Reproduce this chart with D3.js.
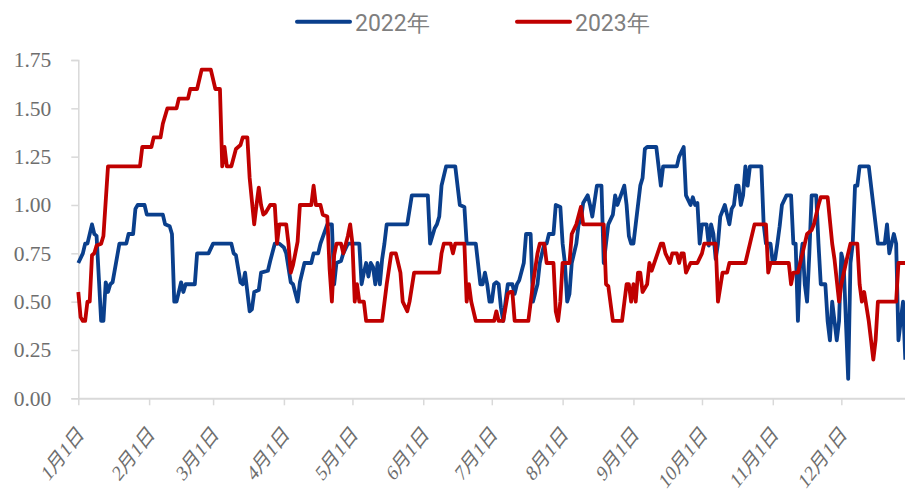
<!DOCTYPE html>
<html><head><meta charset="utf-8">
<script src="https://cdn.jsdelivr.net/npm/d3@7"></script>
<style>body{margin:0;background:#fff}svg{display:block}</style>
</head><body><svg id="c" width="905" height="496"></svg>
<script>
// Day-of-year index (0 = 1月1日) and values
const days2022 = [0,2,3,4,6,7,8,10,11,12,13,14,15,18,21,22,24,25,26,29,30,37,38,40,41,42,43,45,46,47,51,52,57,59,67,68,69,71,72,73,75,76,77,79,80,83,84,86,88,90,91,93,94,96,97,99,102,103,105,106,109,111,112,113,115,116,118,123,124,125,126,127,128,129,130,131,132,133,134,135,144,146,153,154,156,157,158,159,161,165,167,169,170,174,176,177,178,179,180,181,182,183,184,185,186,187,188,190,191,192,193,195,196,197,198,199,201,202,204,205,206,208,209,211,212,213,214,215,216,218,219,220,221,223,224,225,227,229,230,231,232,234,235,236,239,240,241,242,243,244,246,247,248,249,253,255,256,262,263,265,266,268,269,270,271,272,273,275,276,277,278,279,280,281,283,285,286,287,288,289,290,291,292,293,294,299,300,301,303,304,305,306,307,308,310,312,313,314,315,316,317,318,319,320,321,323,324,325,327,328,329,330,332,333,334,335,336,337,338,339,340,341,342,346,348,350,353,354,355,356,357,358,359,360,361,362];
const values2022 = [0.70,0.75,0.80,0.80,0.90,0.85,0.84,0.40,0.40,0.60,0.55,0.59,0.60,0.80,0.80,0.85,0.85,0.98,1.00,1.00,0.95,0.95,0.90,0.89,0.85,0.50,0.50,0.60,0.55,0.59,0.59,0.75,0.75,0.80,0.80,0.75,0.74,0.60,0.59,0.65,0.45,0.46,0.55,0.56,0.65,0.66,0.71,0.80,0.80,0.78,0.75,0.60,0.59,0.50,0.60,0.70,0.70,0.75,0.75,0.80,0.90,0.90,0.59,0.70,0.71,0.75,0.80,0.80,0.59,0.65,0.70,0.63,0.70,0.68,0.59,0.70,0.59,0.72,0.80,0.90,0.90,1.05,1.05,0.80,0.88,0.90,0.94,1.10,1.20,1.20,1.00,0.99,0.80,0.80,0.59,0.59,0.65,0.59,0.50,0.50,0.59,0.60,0.59,0.47,0.40,0.50,0.59,0.59,0.54,0.59,0.61,0.70,0.85,0.85,0.85,0.50,0.59,0.70,0.80,0.80,0.85,0.85,1.00,0.99,0.80,0.70,0.50,0.54,0.70,0.80,0.90,0.92,1.01,1.05,1.00,0.94,1.10,1.10,0.70,0.80,0.90,0.95,1.05,1.00,1.10,1.00,0.84,0.80,0.80,0.90,1.10,1.14,1.29,1.30,1.30,1.10,1.20,1.20,1.25,1.30,1.05,1.00,1.04,1.00,1.01,0.80,0.90,0.90,0.79,0.90,0.85,0.72,0.80,0.94,1.00,0.90,0.98,1.00,1.10,1.10,1.00,1.05,1.20,1.10,1.20,1.20,0.90,0.80,0.80,0.70,0.72,0.80,0.89,1.00,1.05,1.05,0.80,0.80,0.40,0.70,0.80,0.59,0.50,0.75,1.05,1.05,0.80,0.59,0.59,0.40,0.30,0.50,0.30,0.40,0.75,0.70,0.40,0.10,0.70,0.80,1.10,1.10,1.20,1.20,1.00,0.80,0.80,0.90,0.75,0.80,0.85,0.80,0.30,0.40,0.50,0.20];

const days2023 = [0,1,2,3,4,5,6,7,8,10,11,13,27,28,32,33,36,37,39,43,44,48,49,52,54,58,60,62,63,64,65,67,69,71,72,74,75,77,78,79,80,81,82,84,86,87,88,91,92,93,94,96,97,102,103,104,106,107,109,110,111,112,113,115,116,118,119,120,121,122,123,125,126,133,135,137,139,140,141,142,144,145,147,158,159,160,163,164,165,169,170,171,172,174,182,183,184,186,188,189,190,191,197,199,201,202,204,205,208,209,210,211,212,215,216,218,220,221,230,231,232,234,238,240,241,242,243,244,245,246,247,249,250,251,253,255,256,257,259,260,262,263,264,265,266,268,271,273,274,279,280,282,284,285,292,294,296,301,302,303,311,312,313,315,317,319,321,322,324,325,328,330,331,333,334,336,338,341,342,343,344,346,347,348,349,350,358,359,362];
const values2023 = [0.55,0.42,0.40,0.40,0.50,0.50,0.74,0.75,0.79,0.80,0.84,1.20,1.20,1.30,1.30,1.35,1.35,1.42,1.50,1.50,1.55,1.55,1.60,1.60,1.70,1.70,1.60,1.60,1.20,1.30,1.20,1.20,1.29,1.31,1.35,1.35,1.14,0.90,1.00,1.09,1.00,0.95,0.96,1.00,1.00,0.80,0.90,0.90,0.80,0.65,0.69,0.81,1.00,1.00,1.10,1.00,1.00,0.95,0.94,0.67,0.50,0.74,0.80,0.80,0.75,0.84,0.90,0.80,0.50,0.59,0.50,0.50,0.40,0.40,0.59,0.75,0.75,0.70,0.65,0.50,0.45,0.50,0.65,0.65,0.75,0.80,0.80,0.75,0.80,0.80,0.50,0.59,0.50,0.40,0.40,0.45,0.40,0.40,0.54,0.55,0.55,0.40,0.40,0.59,0.75,0.80,0.80,0.70,0.70,0.45,0.40,0.50,0.70,0.70,0.85,0.90,0.99,0.90,0.90,0.59,0.58,0.40,0.40,0.59,0.59,0.50,0.59,0.50,0.65,0.65,0.55,0.59,0.70,0.66,0.73,0.80,0.80,0.75,0.70,0.75,0.75,0.70,0.75,0.75,0.65,0.70,0.70,0.75,0.80,0.80,0.50,0.65,0.65,0.70,0.70,0.80,0.90,0.90,0.65,0.70,0.70,0.59,0.65,0.65,0.75,0.85,0.87,0.90,1.00,1.04,1.04,0.80,0.72,0.50,0.59,0.70,0.80,0.80,0.59,0.50,0.55,0.40,0.30,0.20,0.30,0.50,0.50,0.70,0.70];

const monthTickDays = [0,31,59,90,120,151,181,212,243,273,304,334];
const monthLabels = ["1月1日","2月1日","3月1日","4月1日","5月1日","6月1日","7月1日","8月1日","9月1日","10月1日","11月1日","12月1日"];
const yTicks = [0,0.25,0.5,0.75,1.0,1.25,1.5,1.75];
const seriesNames = ["2022年","2023年"];
const seriesColors = ["#0A3F8C","#C00000"];

const svg = d3.select("#c");
const x = d3.scaleLinear().domain([0,362]).range([78.3,905.3]);
const y = d3.scaleLinear().domain([0,1.75]).range([398.3,60]);
const gridCol = "#d9d9d9", textCol = "#6e6e6e";

// Y axis
const ya = svg.append("g").attr("transform","translate(78.3,0)")
  .call(d3.axisLeft(y).tickValues(yTicks).tickFormat(d3.format(".2f")).tickSize(7).tickPadding(20));
ya.select(".domain").attr("stroke",gridCol).attr("stroke-width",1.5);
ya.selectAll(".tick line").attr("stroke",gridCol).attr("stroke-width",1.5);
ya.selectAll("text").attr("fill",textCol).style("font-family","'Liberation Serif','Times New Roman',serif").style("font-size","21.5px");

// X axis
const xa = svg.append("g").attr("transform","translate(0,398.3)")
  .call(d3.axisBottom(x).tickValues(monthTickDays).tickFormat((d,i)=>monthLabels[i]).tickSize(7).tickSizeOuter(0));
xa.select(".domain").attr("stroke",gridCol).attr("stroke-width",2);
xa.selectAll(".tick line").attr("stroke",gridCol).attr("stroke-width",1.5);
xa.selectAll("text").attr("fill",textCol)
  .style("font-family","'Liberation Serif','Noto Sans CJK SC',serif").style("font-size","22px")
  .attr("text-anchor","end").attr("dy",null).attr("y",null)
  .attr("transform","translate(6,37) scale(0.78,1) rotate(-45)");

// Lines
const data = [days2022.map((d,i)=>[d,values2022[i]]), days2023.map((d,i)=>[d,values2023[i]])];
const line = d3.line().x(d=>x(d[0])).y(d=>y(d[1]));
svg.append("defs").append("clipPath").attr("id","cp").append("rect").attr("x",70).attr("y",0).attr("width",835).attr("height",496);
const lg = svg.append("g").attr("clip-path","url(#cp)");
data.forEach((s,i)=>{
  lg.append("path").datum(s).attr("d",line).attr("fill","none")
    .attr("stroke",seriesColors[i]).attr("stroke-width",3.8).attr("stroke-linejoin","round");
});

// Legend
const legX = [297,517];
seriesNames.forEach((n,i)=>{
  const g = svg.append("g").attr("transform",`translate(${legX[i]},21.7)`);
  g.append("line").attr("x1",0).attr("x2",53).attr("stroke",seriesColors[i]).attr("stroke-width",4).attr("stroke-linecap","round");
  g.append("text").attr("x",58).attr("y",9.5).text(n).attr("fill","#7f7f7f")
    .style("font-family","'Liberation Sans Narrow','Roboto',sans-serif").style("font-size","23px");
});
</script></body></html>
